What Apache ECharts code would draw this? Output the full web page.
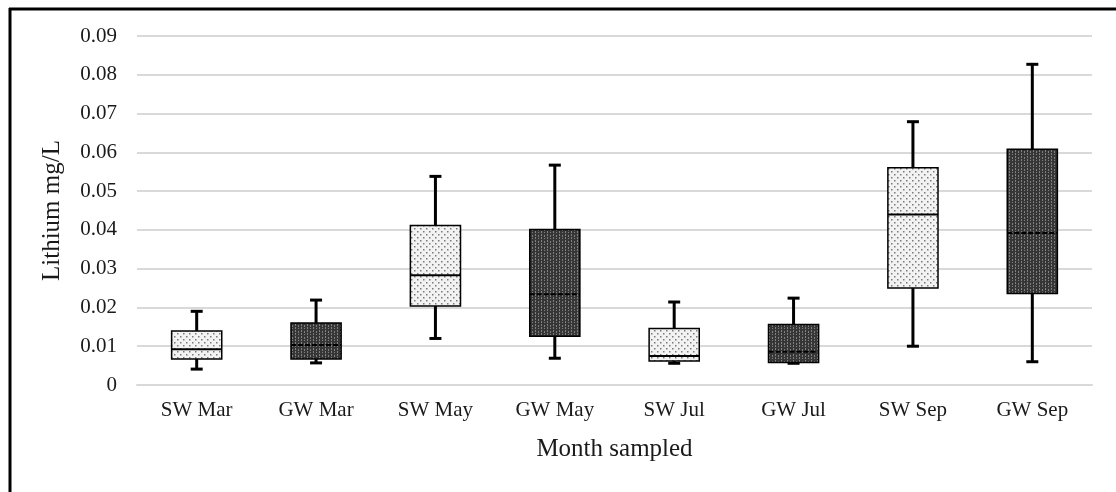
<!DOCTYPE html>
<html>
<head>
<meta charset="utf-8">
<script src="https://cdn.jsdelivr.net/npm/echarts@6/dist/echarts.min.js"></script>
<style>html,body{margin:0;padding:0;background:#fff}#c{width:1116px;height:492px}</style>
</head>
<body>
<div id="c"></div>
<script>
const categories = ['SW Mar','GW Mar','SW May','GW May','SW Jul','GW Jul','SW Sep','GW Sep'];
const groups = ['SW','GW','SW','GW','SW','GW','SW','GW'];
const minVals = [0.0041, 0.0057, 0.0120, 0.0069, 0.0056, 0.0056, 0.0100, 0.0060];
const q1Vals  = [0.0067, 0.0067, 0.0204, 0.0126, 0.0062, 0.0058, 0.0250, 0.0236];
const medVals = [0.0092, 0.0103, 0.0283, 0.0234, 0.0075, 0.0086, 0.0440, 0.0392];
const q3Vals  = [0.0139, 0.0160, 0.0411, 0.0401, 0.0146, 0.0156, 0.0560, 0.0608];
const maxVals = [0.0190, 0.0219, 0.0538, 0.0567, 0.0214, 0.0224, 0.0679, 0.0827];
const yTickLabels = ['0','0.01','0.02','0.03','0.04','0.05','0.06','0.07','0.08','0.09'];

function makePattern(bg, dot, type) {
  const c = document.createElement('canvas');
  c.width = 6; c.height = 6;
  const g = c.getContext('2d');
  g.fillStyle = bg; g.fillRect(0,0,6,6);
  g.fillStyle = dot;
  if (type === 'dots') {
    g.fillRect(0,0,1.5,1.5);
    g.fillRect(3,3,1.5,1.5);
  } else {
    g.fillRect(1,0,1,2);
    g.fillRect(1,3,1,2);
    g.fillRect(4,1,1,2);
    g.fillRect(4,4,1,1);
  }
  return c;
}
const swPattern = {image: makePattern('#f2f2f2', '#7a7a7a', 'dots'), repeat: 'repeat'};
const gwPattern = {image: makePattern('#363636', '#808080', 'lines'), repeat: 'repeat'};

const data = categories.map((c, i) => [i, minVals[i], q1Vals[i], medVals[i], q3Vals[i], maxVals[i]]);

function renderItem(params, api) {
  const i = api.value(0);
  const pMin = api.coord([i, api.value(1)]);
  const pQ1 = api.coord([i, api.value(2)]);
  const pMed = api.coord([i, api.value(3)]);
  const pQ3 = api.coord([i, api.value(4)]);
  const pMax = api.coord([i, api.value(5)]);
  const band = api.size([1, 0])[0];
  const bw = band * 0.42;
  const cap = 12;
  const x = pMed[0];
  const isGW = groups[i] === 'GW';
  const lineStyle = {stroke: '#000', lineWidth: 3};
  return {
    type: 'group',
    children: [
      {type: 'line', shape: {x1: x, y1: pMax[1], x2: x, y2: pQ3[1]}, style: lineStyle},
      {type: 'line', shape: {x1: x, y1: pQ1[1], x2: x, y2: pMin[1]}, style: lineStyle},
      {type: 'line', shape: {x1: x - cap/2, y1: pMax[1], x2: x + cap/2, y2: pMax[1]}, style: lineStyle},
      {type: 'line', shape: {x1: x - cap/2, y1: pMin[1], x2: x + cap/2, y2: pMin[1]}, style: lineStyle},
      {type: 'rect', shape: {x: x - bw/2, y: pQ3[1], width: bw, height: pQ1[1] - pQ3[1]},
        style: {fill: isGW ? gwPattern : swPattern, stroke: '#000', lineWidth: 1.5}},
      {type: 'line', shape: {x1: x - bw/2, y1: pMed[1], x2: x + bw/2, y2: pMed[1]},
        style: {stroke: '#000', lineWidth: 2, lineDash: isGW ? [5, 2] : null}}
    ]
  };
}

const chart = echarts.init(document.getElementById('c'));
chart.setOption({
  animation: false,
  backgroundColor: '#fff',
  textStyle: {fontFamily: 'Liberation Serif'},
  grid: {left: 137, right: 24, top: 36, bottom: 107},
  xAxis: {
    type: 'category',
    data: categories,
    name: 'Month sampled',
    nameLocation: 'middle',
    nameGap: 52,
    nameTextStyle: {fontFamily: 'Liberation Serif', fontSize: 25, color: '#1a1a1a'},
    axisLine: {lineStyle: {color: '#d9d9d9', width: 2}},
    axisTick: {show: false},
    axisLabel: {fontFamily: 'Liberation Serif', fontSize: 21, color: '#1a1a1a', margin: 15}
  },
  yAxis: {
    type: 'value',
    min: 0, max: 0.09, interval: 0.01,
    name: 'Lithium mg/L',
    nameLocation: 'middle',
    nameGap: 72,
    nameRotate: 90,
    nameTextStyle: {fontFamily: 'Liberation Serif', fontSize: 25, color: '#1a1a1a'},
    axisLine: {show: false},
    axisTick: {show: false},
    splitLine: {lineStyle: {color: '#d9d9d9', width: 2}},
    axisLabel: {fontFamily: 'Liberation Serif', fontSize: 21, color: '#1a1a1a', margin: 20,
      formatter: v => yTickLabels[Math.round(v * 100)]}
  },
  graphic: [
    {type: 'line', shape: {x1: 9, y1: 9, x2: 1116, y2: 9}, style: {stroke: '#000', lineWidth: 3}},
    {type: 'line', shape: {x1: 10, y1: 8, x2: 10, y2: 492}, style: {stroke: '#000', lineWidth: 3}}
  ],
  series: [{
    type: 'custom',
    renderItem: renderItem,
    data: data,
    encode: {x: 0, y: [1, 2, 3, 4, 5]}
  }]
});
</script>
</body>
</html>
